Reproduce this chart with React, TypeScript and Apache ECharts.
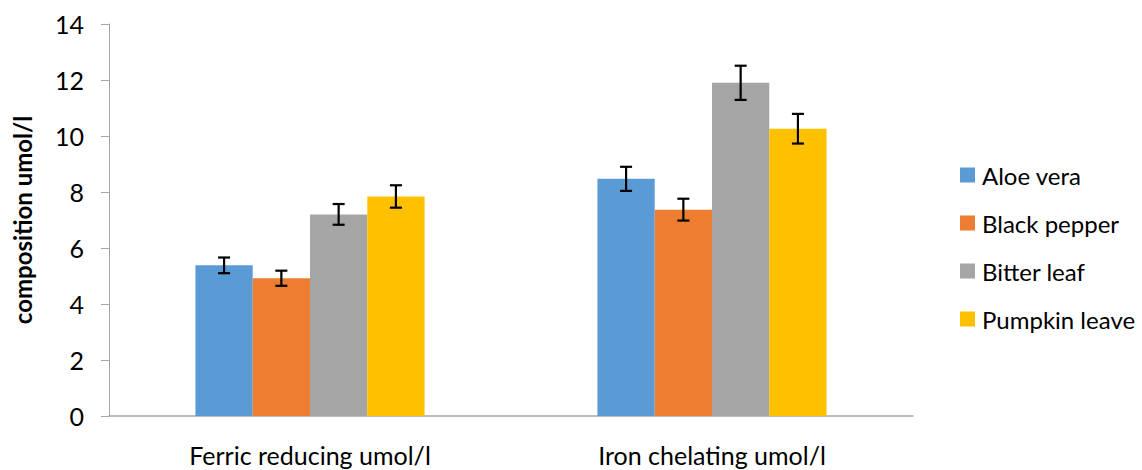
import React, { useEffect, useRef } from "react";
import * as echarts from "echarts";

const categories = ["Ferric reducing umol/l", "Iron chelating umol/l"];
const seriesNames = ["Aloe vera", "Black pepper", "Bitter leaf", "Pumpkin leave"];
const colors = ["#5B9BD5", "#ED7D31", "#A5A5A5", "#FFC000"];
const aloeVera = [5.38, 8.47];
const blackPepper = [4.92, 7.37];
const bitterLeaf = [7.2, 11.9];
const pumpkinLeave = [7.84, 10.26];
const aloeVeraErr = [0.28, 0.43];
const blackPepperErr = [0.27, 0.39];
const bitterLeafErr = [0.37, 0.61];
const pumpkinLeaveErr = [0.4, 0.53];
const yTicks = [0, 2, 4, 6, 8, 10, 12, 14];

const FONT = "Lato";
const CAT_GAP = 0.43;

export default function App() {
  const ref = useRef<HTMLDivElement>(null);
  useEffect(() => {
    if (!ref.current) return;
    const chart = echarts.init(ref.current, undefined, { renderer: "svg" });
    const values = [aloeVera, blackPepper, bitterLeaf, pumpkinLeave];
    const errs = [aloeVeraErr, blackPepperErr, bitterLeafErr, pumpkinLeaveErr];
    const n = values.length;
    const bars = values.map((v, i) => ({
      name: seriesNames[i],
      type: "bar",
      data: v,
      barGap: "0%",
      barCategoryGap: CAT_GAP * 100 + "%",
      itemStyle: { color: colors[i] },
      z: 2,
    }));
    const errSeries = values.map((v, i) => ({
      type: "custom",
      name: "err" + i,
      data: v.map((val, j) => [j, val, errs[i][j]]),
      z: 5,
      renderItem: (params: any, api: any) => {
        const c = api.value(0);
        const val = api.value(1);
        const e = api.value(2);
        const band = api.size([1, 0])[0];
        const bw = (band * (1 - CAT_GAP)) / n;
        const center = api.coord([c, val]);
        const x = center[0] + (i - (n - 1) / 2) * bw;
        const hi = api.coord([c, val + e])[1];
        const lo = api.coord([c, val - e])[1];
        const cap = 6;
        const style = { stroke: "#000", lineWidth: 2.2 };
        return {
          type: "group",
          children: [
            { type: "line", shape: { x1: x, y1: hi, x2: x, y2: lo }, style },
            { type: "line", shape: { x1: x - cap, y1: hi, x2: x + cap, y2: hi }, style },
            { type: "line", shape: { x1: x - cap, y1: lo, x2: x + cap, y2: lo }, style },
          ],
        };
      },
    }));
    chart.setOption({
      animation: false,
      textStyle: { fontFamily: FONT },
      grid: { left: 109, right: 229, top: 24, bottom: 54, containLabel: false, outerBoundsMode: "none" },
      legend: {
        data: seriesNames,
        orient: "vertical",
        left: 955,
        top: 158,
        itemWidth: 15,
        itemHeight: 15,
        itemGap: 24,
        icon: "rect",
        textStyle: { fontFamily: FONT, fontSize: 24, color: "#000", padding: [0, 0, 0, 2] },
      },
      xAxis: {
        type: "category",
        data: categories,
        axisLine: { lineStyle: { color: "#A6A6A6", width: 1.5 } },
        axisTick: { show: false },
        axisLabel: { fontFamily: FONT, fontSize: 25, color: "#000", margin: 26 },
      },
      yAxis: {
        type: "value",
        min: 0,
        max: 14,
        interval: 2,
        name: "composition umol/l",
        nameLocation: "middle",
        nameRotate: 90,
        nameGap: 75,
        nameTextStyle: { fontFamily: FONT, fontSize: 24, fontWeight: "bold", color: "#000" },
        axisLine: { show: true, lineStyle: { color: "#A6A6A6", width: 1 } },
        axisTick: { show: true, length: 8, lineStyle: { color: "#A6A6A6" } },
        splitLine: { show: false },
        axisLabel: {
          fontFamily: FONT,
          fontSize: 25,
          color: "#000",
          margin: 25,
          formatter: (v: number) => (yTicks.includes(v) ? String(v) : ""),
        },
      },
      series: [...bars, ...errSeries],
    });
    return () => chart.dispose();
  }, []);
  return <div ref={ref} style={{ width: 1142, height: 470, position: "absolute", left: 0, top: 0 }} />;
}
